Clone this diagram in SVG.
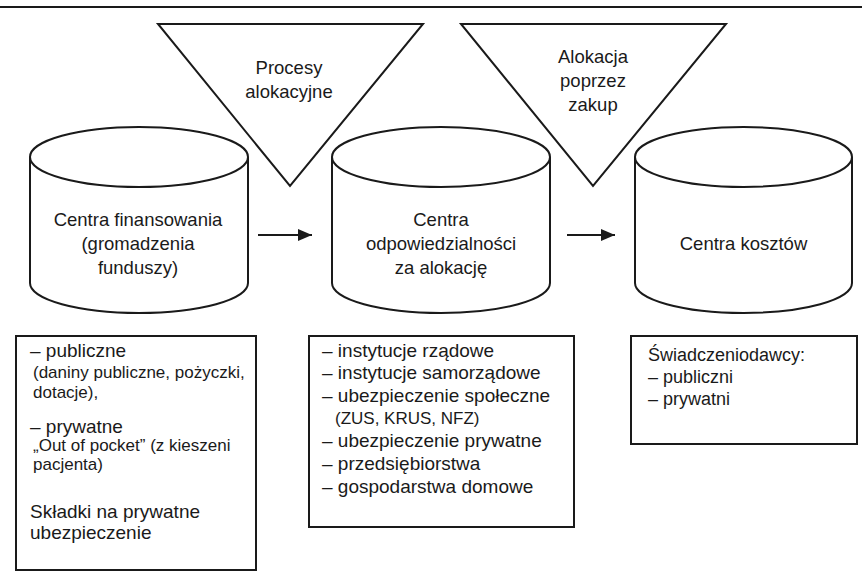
<svg xmlns="http://www.w3.org/2000/svg" width="862" height="585" viewBox="0 0 862 585">
<defs>
<style>
.ln{fill:none;stroke:#1a1a1a;stroke-width:2}
.sh{fill:#fff;stroke:#1a1a1a;stroke-width:2}
.t{font-family:"Liberation Sans",Arial,Helvetica,sans-serif;font-size:18.5px;fill:#1a1a1a}
.c{text-anchor:middle}
.b{font-size:19px}
.s{font-size:17px}
.r{font-size:18px}
</style>
<marker id="ah" viewBox="0 0 14 12" refX="14" refY="6" markerWidth="14" markerHeight="12" markerUnits="userSpaceOnUse" orient="auto">
<path d="M0,0 L14,6 L0,12 Z" fill="#1a1a1a"/>
</marker>
</defs>
<rect width="862" height="585" fill="#fff"/>
<line class="ln" x1="0" y1="7" x2="862" y2="7"/>

<g id="cyl1">
<path class="sh" d="M30,157 V283 A109,30 0 0 0 248,283 V157"/>
<ellipse class="sh" cx="139" cy="157" rx="109" ry="30"/>
<text class="t c" x="138" y="226">Centra finansowania</text>
<text class="t c" x="138" y="250">(gromadzenia</text>
<text class="t c" x="138" y="274">funduszy)</text>
</g>
<g id="cyl2">
<path class="sh" d="M332,157 V283 A109,30 0 0 0 550,283 V157"/>
<ellipse class="sh" cx="441" cy="157" rx="109" ry="30"/>
<text class="t c" x="441" y="226">Centra</text>
<text class="t c" x="441" y="250">odpowiedzialności</text>
<text class="t c" x="441" y="274">za alokację</text>
</g>
<g id="cyl3">
<path class="sh" d="M635,157 V283 A108.5,30 0 0 0 852,283 V157"/>
<ellipse class="sh" cx="743.5" cy="157" rx="108.5" ry="30"/>
<text class="t c" x="743.5" y="250">Centra kosztów</text>
</g>

<g id="tri1">
<polygon class="sh" points="158,24 423,24 290,186"/>
<text class="t c" x="289" y="74">Procesy</text>
<text class="t c" x="289" y="98">alokacyjne</text>
</g>
<g id="tri2">
<polygon class="sh" points="461,24 726,24 593,186"/>
<text class="t c" x="593" y="63">Alokacja</text>
<text class="t c" x="593" y="87">poprzez</text>
<text class="t c" x="593" y="111">zakup</text>
</g>

<g id="connectors">
<line class="ln" x1="258" y1="235" x2="312" y2="235" marker-end="url(#ah)"/>
<line class="ln" x1="567" y1="235" x2="615" y2="235" marker-end="url(#ah)"/>
</g>

<g id="box1">
<rect class="sh" x="16" y="336" width="240" height="234"/>
<text class="t b" x="30" y="357">– publiczne</text>
<text class="t s" x="33" y="378">(daniny publiczne, pożyczki,</text>
<text class="t s" x="33" y="398">dotacje),</text>
<text class="t b" x="30" y="433">– prywatne</text>
<text class="t s" x="33" y="451">„Out of pocket” (z kieszeni</text>
<text class="t s" x="33" y="470">pacjenta)</text>
<text class="t b" x="30" y="518">Składki na prywatne</text>
<text class="t b" x="30" y="539">ubezpieczenie</text>
</g>
<g id="box2">
<rect class="sh" x="309" y="336" width="265" height="191"/>
<text class="t b" x="322" y="357">– instytucje rządowe</text>
<text class="t b" x="322" y="379">– instytucje samorządowe</text>
<text class="t b" x="322" y="402">– ubezpieczenie społeczne</text>
<text class="t s" x="335" y="424">(ZUS, KRUS, NFZ)</text>
<text class="t b" x="322" y="447">– ubezpieczenie prywatne</text>
<text class="t b" x="322" y="470">– przedsiębiorstwa</text>
<text class="t b" x="322" y="493">– gospodarstwa domowe</text>
</g>
<g id="box3">
<rect class="sh" x="631" y="336" width="226" height="108"/>
<text class="t r" x="648" y="361">Świadczeniodawcy:</text>
<text class="t r" x="648" y="383">– publiczni</text>
<text class="t r" x="648" y="405">– prywatni</text>
</g>
</svg>
